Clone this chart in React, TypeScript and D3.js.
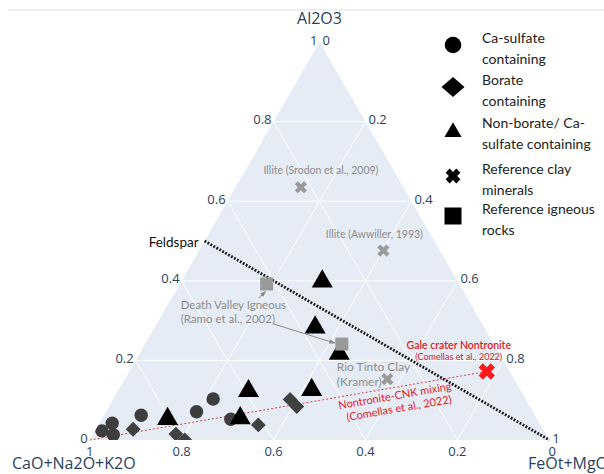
import React from "react";
import * as d3 from "d3";

const WIDTH = 604;
const HEIGHT = 474;

// Axis titles & ticks
const titleA = "Al2O3";
const titleB = "CaO+Na2O+K2O";
const titleC = "FeOt+MgO";
const tickValues = [0, 0.2, 0.4, 0.6, 0.8, 1];
const tickLabels = ["0", "0.2", "0.4", "0.6", "0.8", "1"];
const gridValues = [0.2, 0.4, 0.6, 0.8];

// Data: [Al2O3, CaO+Na2O+K2O, FeOt+MgO]
const caSulfate = [
  [0.023, 0.963, 0.015],
  [0.042, 0.93, 0.028],
  [0.013, 0.942, 0.045],
  [0.062, 0.857, 0.081],
  [0.071, 0.732, 0.197],
  [0.103, 0.68, 0.217],
  [0.052, 0.667, 0.281],
];
const borate = [
  [0.027, 0.892, 0.081],
  [0.015, 0.805, 0.18],
  [0.0, 0.793, 0.207],
  [0.038, 0.614, 0.348],
  [0.102, 0.513, 0.385],
  [0.084, 0.508, 0.409],
];
const nonBorate = [
  [0.053, 0.804, 0.143],
  [0.123, 0.593, 0.284],
  [0.055, 0.645, 0.3],
  [0.126, 0.454, 0.42],
  [0.399, 0.295, 0.307],
  [0.283, 0.368, 0.349],
  [0.217, 0.349, 0.435],
];
const refClays = [
  [0.635, 0.223, 0.142],
  [0.476, 0.123, 0.401],
  [0.153, 0.276, 0.571],
];
const galeNontronite = [0.172, 0.05, 0.778];
const refIgneous = [
  [0.392, 0.419, 0.189],
  [0.241, 0.331, 0.428],
];
const feldspar = [0.5, 0.5, 0];
const feoMgoCorner = [0, 0, 1];
const cnkCorner = [0, 1, 0];

const legendLabels = [
  ["Ca-sulfate", "containing"],
  ["Borate", "containing"],
  ["Non-borate/ Ca-", "sulfate containing"],
  ["Reference clay", "minerals"],
  ["Reference igneous", "rocks"],
];

// Geometry
const apexY = 42;
const baseY = 440;
const leftX = 89.7;
const rightX = 549.3;
const yScale = d3.scaleLinear().domain([0, 1]).range([baseY, apexY]);
const xScale = d3.scaleLinear().domain([0, 1]).range([leftX, rightX]);

function project(p: number[]): [number, number] {
  const t = p[0] + p[1] + p[2];
  const a = p[0] / t;
  const c = p[2] / t;
  return [xScale(c + a / 2), yScale(a)];
}

function trianglePath(side: number) {
  const h = (side * Math.sqrt(3)) / 2;
  return `M0,${(-2 * h) / 3}L${side / 2},${h / 3}L${-side / 2},${h / 3}Z`;
}
function diamondPath(w: number, h: number) {
  return `M0,${-h}L${w},0L0,${h}L${-w},0Z`;
}
function xPath(r: number, t: number) {
  const pts = [
    [-t, -r], [t, -r], [t, -t], [r, -t], [r, t], [t, t],
    [t, r], [-t, r], [-t, t], [-r, t], [-r, -t], [-t, -t],
  ];
  const c = Math.SQRT1_2;
  return (
    "M" +
    pts
      .map(([x, y]) => `${(x * c - y * c).toFixed(2)},${(x * c + y * c).toFixed(2)}`)
      .join("L") +
    "Z"
  );
}

const TICK_FONT = "'Open Sans', 'DejaVu Sans', sans-serif";
const NOTE_FONT = "Lato, 'Open Sans', sans-serif";
const AXIS_COLOR = "#2a3f5f";

export default function App() {
  const A = project([1, 0, 0]);
  const B = project([0, 1, 0]);
  const C = project([0, 0, 1]);
  const triPts = `${A[0]},${A[1]} ${B[0]},${B[1]} ${C[0]},${C[1]}`;

  const gridLines: [number, number, number, number][] = [];
  gridValues.forEach((v) => {
    const a1 = project([v, 1 - v, 0]);
    const a2 = project([v, 0, 1 - v]);
    gridLines.push([a1[0], a1[1], a2[0], a2[1]]);
    const b1 = project([1 - v, v, 0]);
    const b2 = project([0, v, 1 - v]);
    gridLines.push([b1[0], b1[1], b2[0], b2[1]]);
    const c1 = project([1 - v, 0, v]);
    const c2 = project([0, 1 - v, v]);
    gridLines.push([c1[0], c1[1], c2[0], c2[1]]);
  });

  const fs = project(feldspar);
  const fc = project(feoMgoCorner);
  const cn = project(cnkCorner);
  const gn = project(galeNontronite);
  const clayPos = refClays.map(project);
  const ignPos = refIgneous.map(project);

  const mixAngle = (Math.atan2(gn[1] - cn[1], gn[0] - cn[0]) * 180) / Math.PI;
  const mixMid: [number, number] = [cn[0] + (gn[0] - cn[0]) * 0.77, cn[1] + (gn[1] - cn[1]) * 0.77];

  const legendX = 453;
  const legendTextX = 482;
  const legendYs = [45, 87, 130, 176, 216];

  return (
    <svg
      width={WIDTH}
      height={HEIGHT}
      style={{ position: "absolute", left: 0, top: 0, background: "#fff" }}
    >
      <defs>
        <clipPath id="triClip">
          <polygon points={triPts} />
        </clipPath>
        <marker id="arrowHead" viewBox="0 0 10 10" refX="9" refY="5" markerWidth="6" markerHeight="6" orient="auto">
          <path d="M0,1L10,5L0,9Z" fill="#8a8a8a" />
        </marker>
      </defs>
      <line x1={8} x2={604} y1={10} y2={10} stroke="#f0f0f0" strokeWidth={2} />

      <polygon points={triPts} fill="#E5ECF6" />
      {gridLines.map((g, i) => (
        <line key={i} x1={g[0]} y1={g[1]} x2={g[2]} y2={g[3]} stroke="#fff" strokeWidth={1} />
      ))}

      {/* tick labels */}
      <g fontFamily={TICK_FONT} fontSize={13} fill={AXIS_COLOR}>
        {tickValues.map((v, i) => {
          const p = project([v, 1 - v, 0]);
          return (
            <text key={"a" + i} x={p[0] - 2} y={p[1] - 2} dy="0.35em" textAnchor="end">
              {tickLabels[i]}
            </text>
          );
        })}
        {tickValues.map((v, i) => {
          const p = project([0, v, 1 - v]);
          return (
            <text key={"b" + i} x={p[0] + (v === 0 ? 3 : 0)} y={p[1] + 11} dy="0.35em" textAnchor="middle">
              {tickLabels[i]}
            </text>
          );
        })}
        {tickValues.map((v, i) => {
          const p = project([1 - v, 0, v]);
          return (
            <text key={"c" + i} x={p[0] + 3} y={p[1] - 2} dy="0.35em" textAnchor="start">
              {tickLabels[i]}
            </text>
          );
        })}
      </g>

      {/* axis titles */}
      <g fontFamily={TICK_FONT} fontSize={16} fill={AXIS_COLOR}>
        <text x={A[0]} y={24} textAnchor="middle">{titleA}</text>
        <text x={12} y={469} textAnchor="start">{titleB}</text>
        <text x={528} y={469} textAnchor="start">{titleC}</text>
      </g>

      {/* feldspar line */}
      <line x1={fs[0]} y1={fs[1]} x2={fc[0]} y2={fc[1]} stroke="#111" strokeWidth={2.8} strokeDasharray="1.8,1.6" />
      <text x={fs[0] - 6} y={fs[1] + 6} textAnchor="end" fontFamily={NOTE_FONT} fontSize={13.5} fill="#111">
        Feldspar
      </text>

      {/* mixing line */}
      <line x1={cn[0]} y1={cn[1]} x2={gn[0]} y2={gn[1]} stroke="#d9414f" strokeWidth={1} strokeDasharray="2,2" />

      <g clipPath="url(#triClip)">
        {caSulfate.map((p, i) => {
          const [x, y] = project(p);
          return <circle key={"cs" + i} cx={x} cy={y} r={6.7} fill="#3d3d3d" />;
        })}
        {borate.map((p, i) => {
          const [x, y] = project(p);
          return <path key={"bo" + i} d={diamondPath(7.4, 7.4)} transform={`translate(${x},${y})`} fill="#404040" />;
        })}
        {nonBorate.map((p, i) => {
          const [x, y] = project(p);
          return <path key={"nb" + i} d={trianglePath(21)} transform={`translate(${x},${y})`} fill="#000" />;
        })}
        {refIgneous.map((p, i) => {
          const [x, y] = project(p);
          return <rect key={"ig" + i} x={x - 6.5} y={y - 6.5} width={13} height={13} fill="#9a9a9a" />;
        })}
        {clayPos.map(([x, y], i) => (
          <path key={"cl" + i} d={xPath(6.5, 2.1)} transform={`translate(${x},${y})`} fill="#9a9a9a" />
        ))}
        <path d={xPath(8.6, 3)} transform={`translate(${gn[0]},${gn[1]})`} fill="#ff1a1a" />
      </g>

      {/* annotations */}
      <g fontFamily={NOTE_FONT} fill="#8c8c8c" fontSize={10.5}>
        <text x={clayPos[0][0] + 20} y={clayPos[0][1] - 13} textAnchor="middle">
          Illite (Srodon et al., 2009)
        </text>
        <text x={clayPos[1][0] - 9} y={clayPos[1][1] - 13} textAnchor="middle">
          Illite (Awwiller, 1993)
        </text>
        <text x={clayPos[2][0] - 50.5} y={clayPos[2][1] - 8} fontSize={12} textAnchor="start">
          Rio Tinto Clay
        </text>
        <text x={clayPos[2][0] - 50.5} y={clayPos[2][1] + 7} fontSize={12} textAnchor="start">
          (Kramer)
        </text>
        <text x={ignPos[0][0] - 86} y={ignPos[0][1] + 25} fontSize={11.5} textAnchor="start">
          Death Valley Igneous
        </text>
        <text x={ignPos[0][0] - 86} y={ignPos[0][1] + 39.5} fontSize={11.5} textAnchor="start">
          (Ramo et al., 2002)
        </text>
      </g>
      <line
        x1={ignPos[0][0] - 8}
        y1={ignPos[0][1] + 14}
        x2={ignPos[0][0] - 1}
        y2={ignPos[0][1] + 7.5}
        stroke="#8a8a8a"
        strokeWidth={1}
        markerEnd="url(#arrowHead)"
      />
      <line
        x1={ignPos[0][0] + 7}
        y1={ignPos[0][1] + 40}
        x2={ignPos[1][0] - 7}
        y2={ignPos[1][1] - 1}
        stroke="#8a8a8a"
        strokeWidth={1}
        markerEnd="url(#arrowHead)"
      />

      <g fontFamily={NOTE_FONT} fill="#e0201e" textAnchor="middle">
        <text x={gn[0] - 28} y={gn[1] - 23} fontSize={10.5} fontWeight={600}>
          Gale crater Nontronite
        </text>
        <text x={gn[0] - 28} y={gn[1] - 12} fontSize={9}>
          (Comellas et al., 2022)
        </text>
        <g transform={`translate(${mixMid[0]},${mixMid[1]}) rotate(${mixAngle})`}>
          <text x={-2} y={12} fontSize={11}>
            Nontronite-CNK mixing
          </text>
          <text x={0} y={25} fontSize={11}>
            (Comellas et al., 2022)
          </text>
        </g>
      </g>

      {/* legend */}
      <g>
        <circle cx={legendX} cy={legendYs[0]} r={8.3} fill="#000" />
        <path d={diamondPath(11.5, 10)} transform={`translate(${legendX},${legendYs[1]})`} fill="#000" />
        <path d={trianglePath(17)} transform={`translate(${legendX},${legendYs[2] + 2})`} fill="#000" />
        <path d={xPath(7.6, 2.9)} transform={`translate(${legendX},${legendYs[3]})`} fill="#000" />
        <rect x={legendX - 8.5} y={legendYs[4] - 8.5} width={17} height={17} fill="#000" />
        <g fontFamily={NOTE_FONT} fontSize={14} fill="#222">
          {legendLabels.map((lines, i) => (
            <g key={i}>
              <text x={legendTextX} y={legendYs[i] - 2}>{lines[0]}</text>
              <text x={legendTextX} y={legendYs[i] + 19}>{lines[1]}</text>
            </g>
          ))}
        </g>
      </g>
    </svg>
  );
}
